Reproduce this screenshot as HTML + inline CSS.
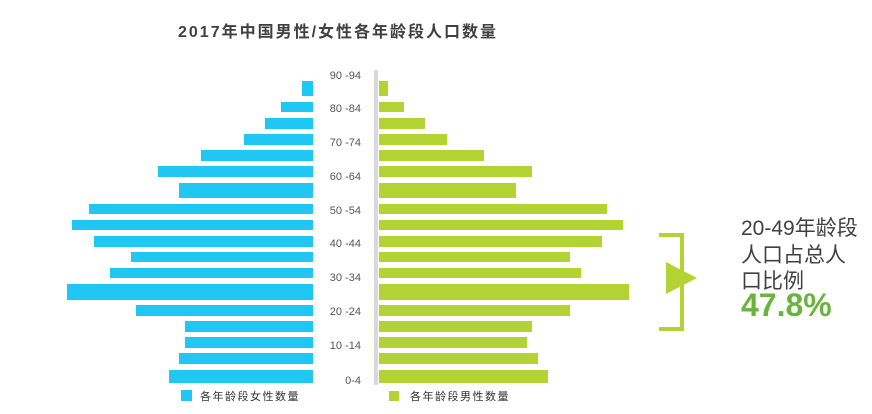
<!DOCTYPE html>
<html><head><meta charset="utf-8"><style>
body{margin:0;background:#fff;width:872px;height:409px;overflow:hidden}
svg text{font-family:"Liberation Sans","Noto Sans CJK SC",sans-serif}
</style></head><body>
<svg width="872" height="409" xmlns="http://www.w3.org/2000/svg">
<text x="178" y="37" font-size="16" font-weight="bold" fill="#404040" letter-spacing="2" font-family="Liberation Sans,Noto Sans CJK SC,sans-serif">2017年中国男性/女性各年龄段人口数量</text>
<rect x="374" y="70" width="4" height="315" fill="#d9d9d9"/>
<g fill="#1fc7f2">
<rect x="302" y="81" width="11" height="15"/>
<rect x="281" y="102" width="32" height="10"/>
<rect x="265" y="118" width="48" height="11"/>
<rect x="244" y="134" width="69" height="11"/>
<rect x="201" y="150" width="112" height="11"/>
<rect x="158" y="166" width="155" height="11"/>
<rect x="179" y="183" width="134" height="15"/>
<rect x="89" y="204" width="224" height="10"/>
<rect x="72" y="220" width="241" height="10"/>
<rect x="94" y="236" width="219" height="11"/>
<rect x="131" y="252" width="182" height="10"/>
<rect x="110" y="268" width="203" height="10"/>
<rect x="67" y="284" width="246" height="16"/>
<rect x="136" y="305" width="177" height="11"/>
<rect x="185" y="321" width="128" height="11"/>
<rect x="185" y="337" width="128" height="11"/>
<rect x="179" y="353" width="134" height="11"/>
<rect x="169" y="370" width="144" height="13"/>
<rect x="181" y="390" width="11" height="11"/>
</g>
<g fill="#b3d334">
<rect x="379" y="81" width="9" height="15"/>
<rect x="379" y="102" width="25" height="10"/>
<rect x="379" y="118" width="46" height="11"/>
<rect x="379" y="134" width="68" height="11"/>
<rect x="379" y="150" width="105" height="11"/>
<rect x="379" y="166" width="153" height="11"/>
<rect x="379" y="183" width="137" height="15"/>
<rect x="379" y="204" width="228" height="10"/>
<rect x="379" y="220" width="244" height="10"/>
<rect x="379" y="236" width="223" height="11"/>
<rect x="379" y="252" width="191" height="10"/>
<rect x="379" y="268" width="202" height="10"/>
<rect x="379" y="284" width="250" height="16"/>
<rect x="379" y="305" width="191" height="11"/>
<rect x="379" y="321" width="153" height="11"/>
<rect x="379" y="337" width="148" height="11"/>
<rect x="379" y="353" width="159" height="11"/>
<rect x="379" y="370" width="169" height="13"/>
<rect x="389" y="391" width="10" height="10"/>
</g>
<g font-size="11" fill="#555" text-anchor="end">
<text x="361" y="79">90 -94</text>
<text x="361" y="112">80 -84</text>
<text x="361" y="146">70 -74</text>
<text x="361" y="180">60 -64</text>
<text x="361" y="214">50 -54</text>
<text x="361" y="247">40 -44</text>
<text x="361" y="281">30 -34</text>
<text x="361" y="315">20 -24</text>
<text x="361" y="349">10 -14</text>
<text x="361" y="384">0-4</text>
</g>
<text x="200" y="400" font-size="11" fill="#333" letter-spacing="1.5">各年龄段女性数量</text>
<text x="410" y="400" font-size="11" fill="#333" letter-spacing="1.5">各年龄段男性数量</text>
<path d="M659 235 H682 V329 H659" fill="none" stroke="#b3d334" stroke-width="4"/>
<polygon points="666,262 697,278 666,294" fill="#b3d334"/>
<g font-size="21" fill="#404040">
<text x="741" y="235">20-49年龄段</text>
<text x="741" y="262">人口占总人</text>
<text x="741" y="288">口比例</text>
</g>
<text x="741" y="316" font-size="32" font-weight="bold" fill="#6ab43e">47.8%</text>
</svg>
</body></html>
